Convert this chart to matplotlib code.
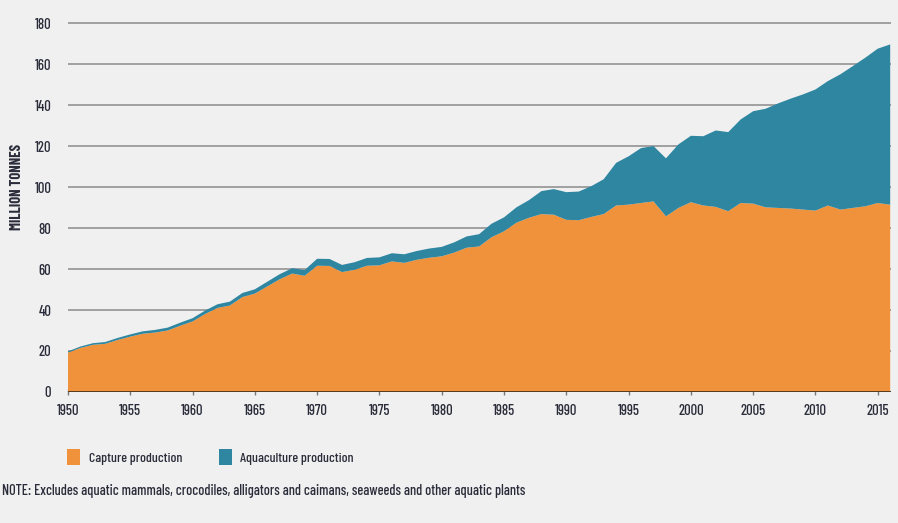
import matplotlib
matplotlib.use("Agg")
import matplotlib.pyplot as plt
from matplotlib.patches import Patch

years = list(range(1950, 2017))
capture = [19.2, 21.5, 23.0, 23.5, 25.4, 27.0, 28.4, 29.0, 30.0, 32.3,
           34.4, 38.0, 41.0, 42.2, 46.3, 48.0, 51.5, 55.0, 57.8, 56.7,
           61.6, 61.5, 58.5, 59.6, 61.6, 61.8, 63.7, 63.0, 64.5, 65.5,
           66.2, 68.0, 70.4, 71.0, 75.5, 78.4, 82.6, 85.0, 86.8, 86.5,
           84.0, 83.8, 85.4, 86.8, 91.0, 91.4, 92.2, 93.0, 85.7, 89.8,
           92.6, 91.0, 90.3, 88.2, 92.2, 91.9, 90.1, 89.8, 89.5, 89.0,
           88.5, 91.0, 89.0, 89.8, 90.6, 92.2, 91.4]
aquaculture = [0.6, 0.7, 0.8, 0.9, 1.0, 1.1, 1.2, 1.3, 1.4, 1.5,
               1.6, 1.7, 1.8, 1.9, 2.0, 2.1, 2.3, 2.5, 2.6, 2.8,
               3.4, 3.4, 3.5, 3.7, 3.8, 3.9, 4.0, 4.2, 4.3, 4.5,
               4.6, 5.0, 5.5, 6.0, 6.6, 6.8, 7.5, 8.6, 11.2, 12.5,
               13.5, 14.0, 15.0, 17.0, 20.8, 23.6, 26.8, 27.0, 28.3, 31.0,
               32.4, 33.8, 37.3, 38.6, 40.8, 45.1, 48.1, 51.0, 53.6, 56.2,
               59.1, 60.7, 66.0, 69.2, 72.5, 75.3, 78.2]
series_labels = ["Capture production", "Aquaculture production"]
xticks = list(range(1950, 2016, 5))
yticks = list(range(0, 181, 20))
note = ("NOTE: Excludes aquatic mammals, crocodiles, alligators and caimans, "
        "seaweeds and other aquatic plants")

orange = "#f0923b"
teal = "#2f86a1"
bg = "#f0f0f0"
txt = "#2a2c3a"

plt.rcParams["font.family"] = ["Barlow Condensed", "Liberation Sans", "DejaVu Sans"]
plt.rcParams["font.weight"] = 500

fig = plt.figure(figsize=(8.98, 5.23), dpi=100, facecolor=bg)
ax = fig.add_axes([0.0757, 0.2505, 0.9170, 0.7093], facecolor=bg)

ax.stackplot(years, capture, aquaculture, colors=[orange, teal],
             linewidth=0, zorder=2)

ax.set_xlim(1950, 2016.1)
ax.set_ylim(0, 181)

# grid behind the areas
for v in yticks[1:]:
    ax.axhline(v, color="#9a9a9a", lw=1.3, zorder=1)
ax.axhline(0, color="#4a3018", lw=2.0, zorder=3)

for s in ax.spines.values():
    s.set_visible(False)

ax.set_xticks(xticks)
ax.set_xticklabels([str(y) for y in xticks])
ax.set_yticks(yticks)
ax.set_yticklabels([str(v) for v in yticks])
ax.tick_params(axis="x", direction="inout", length=5, width=1,
               color="#777777", pad=6, labelsize=10.5, labelcolor=txt)
ax.tick_params(axis="y", length=0, pad=12, labelsize=10.5, labelcolor=txt)

fig.text(0.019, 0.642, "MILLION TONNES", rotation=90, ha="center",
         va="center", fontsize=10.5, fontweight="bold", color=txt)

handles = [Patch(facecolor=orange, edgecolor="none"),
           Patch(facecolor=teal, edgecolor="none")]
fig.legend(handles, series_labels, loc="center left",
           bbox_to_anchor=(0.0746, 0.126), ncol=2, frameon=False,
           fontsize=10, handlelength=0.95, handleheight=1.4,
           handletextpad=0.6, columnspacing=2.65, borderpad=0,
           borderaxespad=0, labelcolor=txt)

fig.text(0.002, 0.062, note, ha="left", va="center", fontsize=10.3,
         color=txt)

fig.savefig("out.png", dpi=100, facecolor=bg)
